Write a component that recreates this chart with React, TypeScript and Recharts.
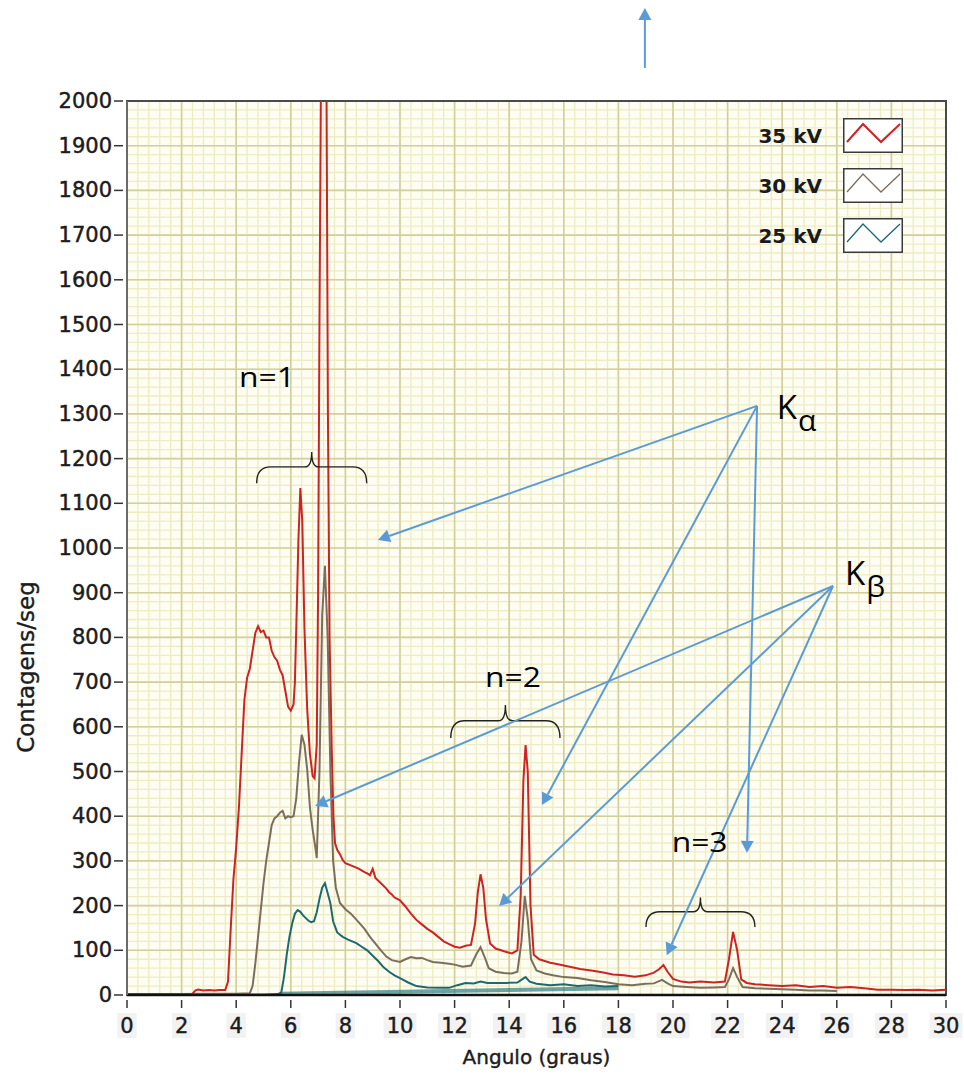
import React from 'react';
import {
  LineChart,
  Line,
  XAxis,
  YAxis,
  CartesianGrid,
  ReferenceLine,
  ReferenceDot,
  ReferenceArea,
  Legend,
} from 'recharts';

type Pt = [number, number];

// ---- series values (angle in degrees, counts/s) ----
const red35kV: Pt[] = [
  [0, 2], [0.5, 2], [1, 2], [1.5, 2], [2, 2], [2.4, 3], [2.5, 10], [2.6, 12], [2.8, 10], [3, 11],
  [3.2, 10], [3.4, 11], [3.6, 11], [3.7, 30], [3.8, 150], [3.9, 260], [4, 330], [4.1, 420], [4.2, 540],
  [4.3, 660], [4.4, 710], [4.5, 730], [4.6, 770], [4.7, 810], [4.8, 825], [4.9, 812], [5, 815],
  [5.1, 800], [5.2, 800], [5.3, 770], [5.4, 756], [5.5, 748], [5.6, 728], [5.7, 715], [5.8, 680],
  [5.9, 645], [6, 636], [6.1, 650], [6.15, 700], [6.2, 820], [6.28, 1020], [6.35, 1134], [6.42, 1060],
  [6.5, 820], [6.6, 640], [6.7, 540], [6.8, 490], [6.87, 485], [6.95, 560], [7, 900], [7.05, 1500],
  [7.1, 2000], [7.15, 2400], [7.25, 2400], [7.31, 2000], [7.36, 1300], [7.42, 800], [7.5, 550],
  [7.56, 400], [7.62, 340], [7.7, 325], [7.8, 315], [7.9, 302], [8, 295], [8.2, 290], [8.4, 285],
  [8.5, 282], [8.7, 275], [8.8, 272], [8.9, 268], [9, 282], [9.1, 262], [9.3, 250], [9.5, 238],
  [9.6, 230], [9.7, 225], [9.8, 218], [10, 212], [10.2, 198], [10.3, 190], [10.4, 182], [10.6, 168],
  [10.8, 158], [11, 148], [11.2, 140], [11.4, 130], [11.6, 120], [11.8, 114], [12, 108], [12.2, 106],
  [12.4, 110], [12.6, 112], [12.75, 160], [12.85, 230], [12.95, 270], [13.05, 240], [13.15, 170],
  [13.3, 115], [13.5, 104], [13.7, 100], [13.9, 96], [14.1, 93], [14.3, 100], [14.42, 220],
  [14.52, 480], [14.6, 559], [14.68, 500], [14.78, 200], [14.9, 90], [15.1, 80], [15.3, 76],
  [15.5, 72], [15.7, 70], [16, 66], [16.3, 62], [16.6, 58], [17, 55], [17.4, 51], [17.8, 46],
  [18.2, 44], [18.6, 41], [19, 44], [19.3, 50], [19.5, 58], [19.65, 67], [19.8, 52], [20, 36],
  [20.3, 30], [20.6, 28], [21, 30], [21.5, 28], [21.9, 30], [22.05, 80], [22.2, 141], [22.35, 100],
  [22.5, 35], [22.7, 27], [23, 24], [23.5, 22], [24, 20], [24.5, 22], [25, 18], [25.5, 20], [26, 16],
  [26.5, 18], [27, 15], [27.5, 12], [28, 12], [28.5, 11], [29, 12], [29.5, 10], [30, 12],
];

const brown30kV: Pt[] = [
  [0, 2], [1, 2], [2, 2], [3, 3], [4, 3], [4.5, 4], [4.6, 20], [4.7, 70], [4.8, 130], [4.9, 190],
  [5, 250], [5.1, 300], [5.2, 340], [5.3, 380], [5.4, 395], [5.5, 400], [5.6, 408], [5.7, 412],
  [5.8, 395], [5.9, 400], [6, 398], [6.1, 400], [6.2, 440], [6.3, 520], [6.4, 582], [6.5, 560],
  [6.6, 505], [6.7, 420], [6.8, 370], [6.9, 330], [6.95, 306], [7.05, 500], [7.15, 850], [7.25, 960],
  [7.35, 800], [7.45, 500], [7.55, 300], [7.65, 240], [7.8, 206], [8, 192], [8.2, 182], [8.5, 162],
  [8.7, 148], [8.9, 130], [9.1, 115], [9.3, 100], [9.5, 86], [9.7, 78], [10, 74], [10.2, 80],
  [10.4, 85], [10.6, 82], [10.8, 83], [11, 78], [11.2, 74], [11.5, 72], [11.8, 70], [12, 68],
  [12.3, 63], [12.6, 66], [12.8, 92], [12.95, 107], [13.1, 85], [13.25, 60], [13.5, 52], [13.8, 49],
  [14.1, 48], [14.3, 52], [14.45, 120], [14.57, 222], [14.68, 170], [14.8, 80], [15, 55], [15.3, 48],
  [15.6, 44], [16, 40], [16.5, 38], [17, 33], [17.5, 29], [18, 24], [18.5, 22], [19, 25], [19.3, 26],
  [19.6, 34], [19.8, 26], [20, 20], [20.5, 18], [21, 16], [21.5, 17], [21.9, 18], [22.05, 35],
  [22.2, 60], [22.35, 40], [22.55, 18], [23, 15], [23.5, 14], [24, 13], [24.5, 12], [25, 10],
  [25.5, 10], [26, 9],
];

const teal25kV: Pt[] = [
  [0, 1], [2, 1], [4, 1], [5, 1], [5.5, 2], [5.65, 5], [5.75, 40], [5.85, 90], [5.95, 130],
  [6.05, 160], [6.15, 182], [6.25, 190], [6.35, 186], [6.45, 178], [6.55, 172], [6.65, 166],
  [6.75, 163], [6.85, 165], [6.95, 185], [7.05, 215], [7.15, 240], [7.25, 250], [7.35, 228],
  [7.45, 205], [7.55, 165], [7.7, 140], [7.9, 130], [8.1, 124], [8.4, 116], [8.6, 108], [8.8, 100],
  [9, 88], [9.2, 76], [9.4, 62], [9.6, 52], [9.8, 44], [10, 38], [10.3, 28], [10.6, 20], [11, 17],
  [11.4, 16], [11.8, 16], [12.1, 22], [12.4, 27], [12.7, 26], [12.95, 30], [13.2, 27], [13.5, 27],
  [13.9, 27], [14.3, 28], [14.5, 36], [14.6, 40], [14.75, 30], [15, 25], [15.5, 22], [16, 24],
  [16.5, 20], [17, 22], [17.5, 19], [18, 20],
];

const teal25kVBase: Pt[] = [[5.6, 3], [18, 15]];

// ---- axes ----
const xTickValues = [0, 2, 4, 6, 8, 10, 12, 14, 16, 18, 20, 22, 24, 26, 28, 30];
const yTickValues = [0, 100, 200, 300, 400, 500, 600, 700, 800, 900, 1000, 1100, 1200, 1300, 1400, 1500, 1600, 1700, 1800, 1900, 2000];
const xAxisTitle = 'Angulo (graus)';
const yAxisTitle = 'Contagens/seg';

// ---- legend ----
const seriesLabels = ['35 kV', '30 kV', '25 kV'];
const seriesColors = ['#cc2323', '#7b6e5c', '#1d6a6e'];

// ---- annotations (data coordinates) ----
const kAlphaFrom = { x: 23.08, y: 1318 };
const kAlphaTargets = [
  { x: 9.19, y: 1018 },
  { x: 15.2, y: 425 },
  { x: 22.71, y: 318 },
];
const kBetaFrom = { x: 25.86, y: 915 };
const kBetaTargets = [
  { x: 6.89, y: 423 },
  { x: 13.63, y: 199 },
  { x: 19.77, y: 89 },
];
const upArrow = [{ x: 18.97, y: 2074 }, { x: 18.97, y: 2208 }];

const braceGroups = [
  { label: 'n=1', from: 4.75, to: 8.78, end: 1145, tip: 1215, tx: 4.1, ty: 1360 },
  { label: 'n=2', from: 11.86, to: 15.86, end: 575, tip: 649, tx: 13.11, ty: 690 },
  { label: 'n=3', from: 19.01, to: 23.0, end: 152, tip: 218, tx: 19.95, ty: 320 },
];
const kLabels = [
  { main: 'K', sub: 'α', x: 23.8, y: 1289 },
  { main: 'K', sub: 'β', x: 26.3, y: 918 },
];

const toObj = (arr: Pt[]) => arr.map(([x, y]) => ({ x, y }));

const minorX: number[] = [];
for (let i = 0; i <= 75; i++) minorX.push(Math.round(i * 4) / 10);
const minorY: number[] = [];
for (let i = 0; i <= 100; i++) minorY.push(i * 20);

const TICK_FONT = '"DejaVu Sans", Verdana, sans-serif';
const ARROW_COLOR = '#5b9bd5';
const TEXT_COLOR = '#1c1c1c';

const YTick = (props: any) => {
  const { x, y, payload } = props;
  return (
    <g>
      <line x1={x - 13} x2={x - 4} y1={y} y2={y} stroke="#333" strokeWidth={1.5} />
      <text
        x={x - 15}
        y={y}
        textAnchor="end"
        dominantBaseline="central"
        fontFamily={TICK_FONT}
        fontSize={21}
        fill={TEXT_COLOR}
        stroke={TEXT_COLOR}
        strokeWidth={0.45}
      >
        {payload.value}
      </text>
    </g>
  );
};

const XTick = (props: any) => {
  const { x, y, payload } = props;
  const s = String(payload.value);
  const w = s.length * 13.4 + 6;
  return (
    <g>
      <line x1={x} x2={x} y1={y + 5} y2={y + 13} stroke="#333" strokeWidth={1.5} />
      <rect x={x - w / 2} y={y + 18} width={w} height={25} fill="#f2f2f2" />
      <text
        x={x}
        y={y + 31}
        textAnchor="middle"
        dominantBaseline="central"
        fontFamily={TICK_FONT}
        fontSize={21}
        fill={TEXT_COLOR}
        stroke={TEXT_COLOR}
        strokeWidth={0.45}
      >
        {s}
      </text>
    </g>
  );
};

const ArrowShape = (props: any) => {
  const { x1, y1, x2, y2 } = props;
  const dx = x2 - x1;
  const dy = y2 - y1;
  const len = Math.hypot(dx, dy) || 1;
  const ux = dx / len;
  const uy = dy / len;
  const hl = 12;
  const hw = 6.5;
  const bx = x2 - ux * hl;
  const by = y2 - uy * hl;
  const pts = `${x2},${y2} ${bx - uy * hw},${by + ux * hw} ${bx + uy * hw},${by - ux * hw}`;
  return (
    <g>
      <line x1={x1} y1={y1} x2={bx} y2={by} stroke={ARROW_COLOR} strokeWidth={2} />
      <polygon points={pts} fill={ARROW_COLOR} />
    </g>
  );
};

const BraceShape = (props: any) => {
  const { x1, y1, x2, y2 } = props;
  const xc = (x1 + x2) / 2;
  const h = y1 - y2;
  const m = y2 + h * 0.48;
  const d = `M${x1},${y1} Q${x1},${m} ${x1 + 14},${m} L${xc - 7},${m} Q${xc},${m} ${xc},${y2} Q${xc},${m} ${xc + 7},${m} L${x2 - 14},${m} Q${x2},${m} ${x2},${y1}`;
  return <path d={d} fill="none" stroke="#222" strokeWidth={1.4} />;
};

const NLabelShape = (label: string) => (props: any) => (
  <text
    transform={`translate(${props.cx},${props.cy}) scale(1.18,1)`}
    x={0}
    y={0}
    fontFamily='"Open Sans", sans-serif'
    fontSize={27}
    fill="#000"
  >
    {label}
  </text>
);

const KLabelShape = (main: string, sub: string) => (props: any) => (
  <text x={props.cx} y={props.cy} fontFamily='"Open Sans", sans-serif' fontSize={33} fill="#000">
    {main}
    <tspan fontSize={30} dy={12} dx={1}>
      {sub}
    </tspan>
  </text>
);

const LegendContent = (props: any) => {
  const payload = (props.payload || []).filter((p: any) => seriesLabels.includes(p.value));
  payload.sort((a: any, b: any) => seriesLabels.indexOf(a.value) - seriesLabels.indexOf(b.value));
  return (
    <div style={{ display: 'flex', flexDirection: 'column' }}>
      {payload.map((p: any, i: number) => (
        <div key={p.value} style={{ display: 'flex', alignItems: 'center', height: 35, marginBottom: 15 }}>
          <div
            style={{
              width: 80,
              textAlign: 'right',
              fontFamily: TICK_FONT,
              fontWeight: 'bold',
              fontSize: 20,
              color: '#1a1a1a',
              marginRight: 21,
            }}
          >
            {p.value}
          </div>
          <svg width={60} height={35} style={{ display: 'block' }}>
            <rect x={0.75} y={0.75} width={58.5} height={33.5} fill="#fff" stroke="#3a3a3a" strokeWidth={1.5} />
            <polyline
              points="4,24 20,6 38,24 57,6"
              fill="none"
              stroke={p.color}
              strokeWidth={i === 0 ? 2 : 1.3}
            />
          </svg>
        </div>
      ))}
    </div>
  );
};

const YAxisLabel = (props: any) => {
  const vb = props.viewBox || { x: 0, y: 101, width: 127, height: 894 };
  const cx = vb.x + 26;
  const cy = vb.y + vb.height / 2 + 119;
  return (
    <text
      x={cx}
      y={cy}
      transform={`rotate(-90, ${cx}, ${cy})`}
      textAnchor="middle"
      dominantBaseline="central"
      fontFamily={TICK_FONT}
      fontSize={23}
      fill={TEXT_COLOR}
      stroke={TEXT_COLOR}
      strokeWidth={0.4}
    >
      {yAxisTitle}
    </text>
  );
};

const XAxisLabel = (props: any) => {
  const vb = props.viewBox || { x: 127, y: 995, width: 819, height: 80 };
  const cx = vb.x + vb.width / 2;
  const cy = vb.y + 62;
  return (
    <text
      x={cx}
      y={cy}
      textAnchor="middle"
      dominantBaseline="central"
      fontFamily={TICK_FONT}
      fontSize={20}
      fill={TEXT_COLOR}
      stroke={TEXT_COLOR}
      strokeWidth={0.4}
    >
      {xAxisTitle}
    </text>
  );
};

export default function App() {
  return (
    <div style={{ position: 'absolute', left: 0, top: 0, width: 964, height: 1075, background: '#fff' }}>
      <LineChart width={964} height={1075} margin={{ top: 101, right: 18, left: 0, bottom: 0 }}>
        <CartesianGrid
          fill="#fdfdf1"
          stroke="#efebc4"
          strokeWidth={1.3}
          horizontalValues={minorY}
          verticalValues={minorX}
        />
        <CartesianGrid
          stroke="#d3cf9c"
          strokeWidth={1.6}
          horizontalValues={yTickValues}
          verticalValues={xTickValues}
        />
        <XAxis
          type="number"
          dataKey="x"
          domain={[0, 30]}
          ticks={xTickValues}
          interval={0}
          allowDataOverflow
          height={80}
          tickSize={0}
          tickMargin={0}
          tick={<XTick />}
          axisLine={{ stroke: '#111', strokeWidth: 2.5 }}
          label={<XAxisLabel />}
        />
        <YAxis
          type="number"
          dataKey="y"
          domain={[0, 2000]}
          ticks={yTickValues}
          interval={0}
          allowDataOverflow
          width={127}
          tickSize={0}
          tickMargin={0}
          tick={<YTick />}
          axisLine={{ stroke: '#6b6b6b', strokeWidth: 2 }}
          label={<YAxisLabel />}
        />
        <ReferenceArea x1={0} x2={30} y1={0} y2={2000} fill="none" stroke="#4a4a4a" strokeWidth={2} ifOverflow="visible" />

        <Line
          data={toObj(teal25kVBase)}
          dataKey="y"
          name="base"
          legendType="none"
          stroke="#2e7c80"
          strokeWidth={4}
          strokeOpacity={0.7}
          dot={false}
          isAnimationActive={false}
        />
        <Line
          data={toObj(teal25kV)}
          dataKey="y"
          name={seriesLabels[2]}
          stroke={seriesColors[2]}
          strokeWidth={2}
          dot={false}
          isAnimationActive={false}
        />
        <Line
          data={toObj(brown30kV)}
          dataKey="y"
          name={seriesLabels[1]}
          stroke={seriesColors[1]}
          strokeWidth={2}
          dot={false}
          isAnimationActive={false}
        />
        <Line
          data={toObj(red35kV)}
          dataKey="y"
          name={seriesLabels[0]}
          stroke={seriesColors[0]}
          strokeWidth={2}
          dot={false}
          isAnimationActive={false}
        />

        {braceGroups.map((b) => (
          <ReferenceLine
            key={'brace' + b.label}
            segment={[{ x: b.from, y: b.end }, { x: b.to, y: b.tip }]}
            ifOverflow="visible"
            shape={BraceShape}
          />
        ))}
        {braceGroups.map((b) => (
          <ReferenceDot key={'lbl' + b.label} x={b.tx} y={b.ty} r={0} ifOverflow="visible" shape={NLabelShape(b.label)} />
        ))}
        {kLabels.map((k) => (
          <ReferenceDot key={'k' + k.sub} x={k.x} y={k.y} r={0} ifOverflow="visible" shape={KLabelShape(k.main, k.sub)} />
        ))}
        {kAlphaTargets.map((t, i) => (
          <ReferenceLine key={'ka' + i} segment={[kAlphaFrom, t]} ifOverflow="visible" shape={ArrowShape} />
        ))}
        {kBetaTargets.map((t, i) => (
          <ReferenceLine key={'kb' + i} segment={[kBetaFrom, t]} ifOverflow="visible" shape={ArrowShape} />
        ))}
        <ReferenceLine segment={upArrow} ifOverflow="visible" shape={ArrowShape} />

        <Legend
          layout="vertical"
          align="center"
          verticalAlign="middle"
          content={<LegendContent />}
          wrapperStyle={{ left: 742, top: 118, width: 170, height: 160 }}
        />
      </LineChart>
    </div>
  );
}
